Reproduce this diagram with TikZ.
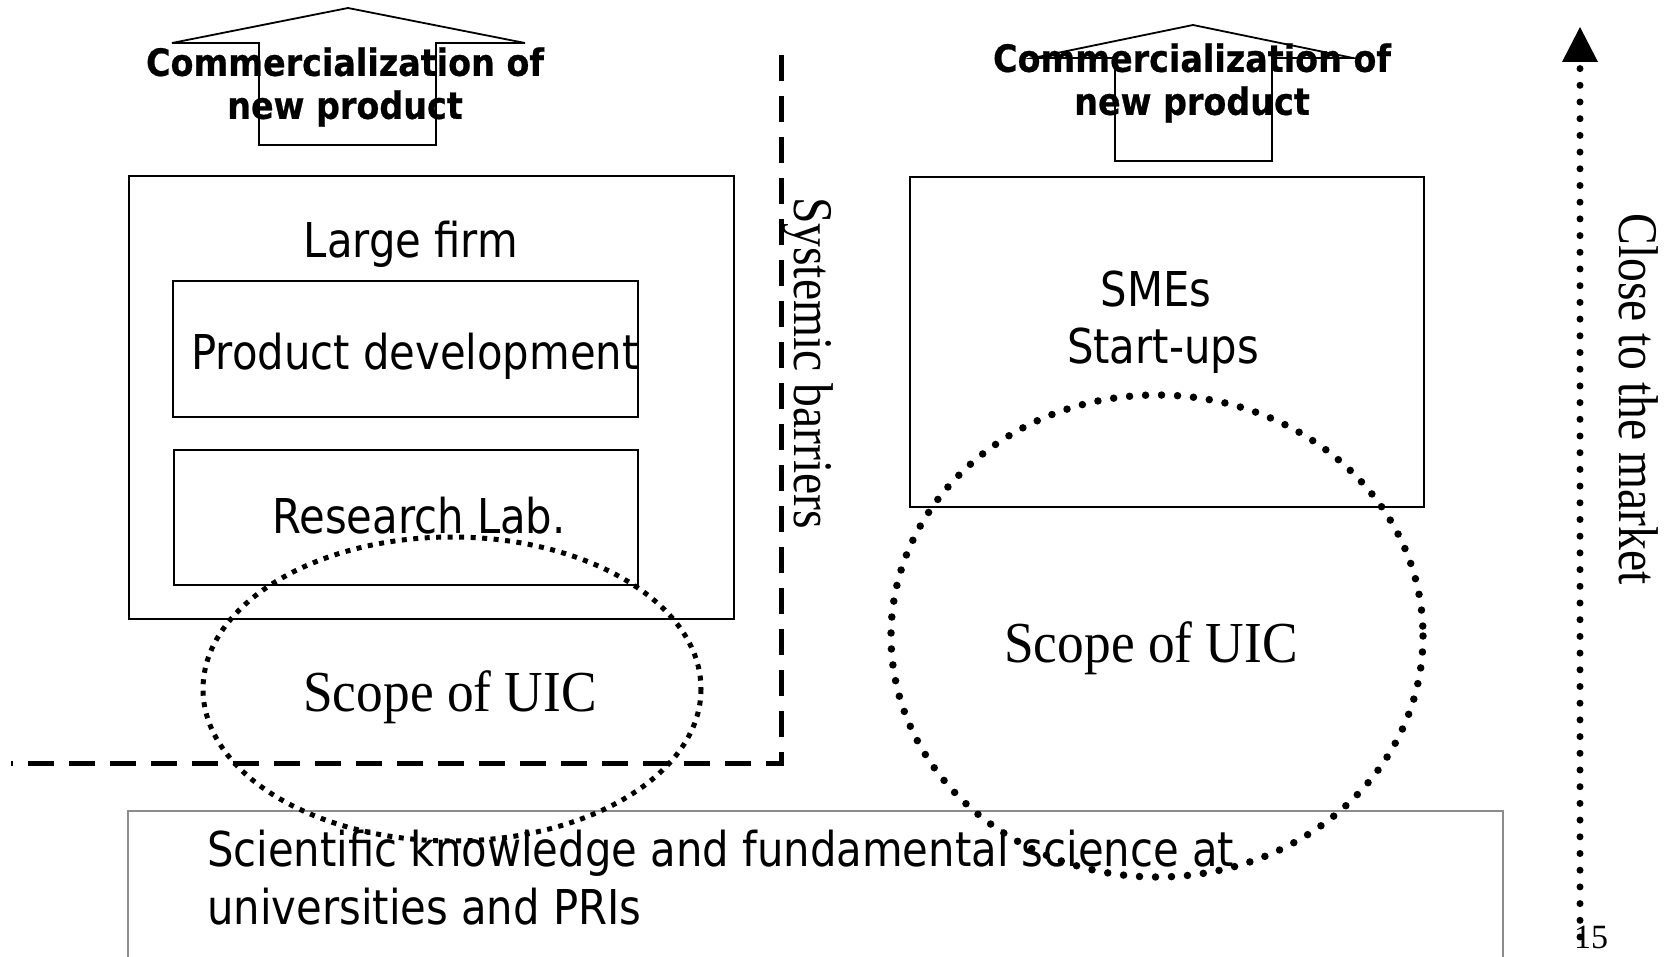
\documentclass[tikz,border=0pt]{standalone}
\usepackage{fontspec}
\setmainfont{Liberation Serif}
\newfontfamily\sansf[FakeStretch=0.87]{DejaVu Sans}
\newfontfamily\headf[FakeStretch=0.89, BoldFeatures={FakeBold=0.6}]{DejaVu Sans}
\newfontfamily\serifw[FakeStretch=0.92]{Liberation Serif}
\newfontfamily\serifn[FakeStretch=0.85]{Liberation Serif}
\usetikzlibrary{arrows.meta}
\begin{document}
\begin{tikzpicture}[x=1pt,y=-1pt,
  frame/.style={draw, line width=2pt, inner sep=0pt, anchor=north west},
  blockarrow/.style={draw, line width=1.8pt, line join=miter},
  headtxt/.style={font=\headf\bfseries\fontsize{37.5}{43}\selectfont, align=center, inner sep=0pt},
  maintxt/.style={font=\sansf\fontsize{48}{58}\selectfont, inner sep=0pt},
  scopetxt/.style={font=\serifw\fontsize{58}{66}\selectfont, inner sep=0pt},
  sidetxt/.style={font=\serifn\fontsize{56}{64}\selectfont, inner sep=0pt, rotate=-90},
  uicsq/.style={draw, line width=5pt, dash pattern=on 5pt off 6.5pt},
  uicround/.style={draw, line width=7.5pt, line cap=round, dash pattern=on 0pt off 16pt},
  barrier/.style={draw, line width=5pt, dash pattern=on 26pt off 15pt},
  market/.style={draw, line width=7pt, line cap=round, dash pattern=on 0pt off 16.7pt},
]
\useasboundingbox (0,0) rectangle (1668,957);

% boxes
\node[frame, minimum width=605pt, minimum height=443pt] (large) at (128,175) {};
\node[frame, minimum width=465pt, minimum height=136pt] (prod) at (172,280) {};
\node[frame, minimum width=464pt, minimum height=135pt] (lab) at (173,449) {};
\node[frame, minimum width=514pt, minimum height=330pt] (smes) at (909,176) {};
\draw[line width=2pt, draw=black!45] (128,957) -- (128,811) -- (1503,811) -- (1503,957);

% block arrows
\draw[blockarrow] (259,145) -- (259,43) -- (172,43) -- (348,8) -- (525,43) -- (436,43) -- (436,145) -- cycle;
\draw[blockarrow] (1115,161) -- (1115,58) -- (1033,58) -- (1193,25) -- (1353,58) -- (1272,58) -- (1272,161) -- cycle;

% texts
\node[headtxt] (hl) at (345,87) {Commercialization of\\new product};
\node[headtxt] (hr) at (1192,83) {Commercialization of\\new product};
\node[maintxt, anchor=base] (tlarge) at (411,258) {Large firm};
\node[maintxt, anchor=base] (tprod) at (415,370) {Product development};
\node[maintxt, anchor=base] (tlab) at (419,533) {Research Lab.};
\node[maintxt, anchor=base] (tsmes1) at (1156,307) {SMEs};
\node[maintxt, anchor=base] (tsmes2) at (1163,364) {Start-ups};
\node[maintxt, align=left, anchor=north west] (tsci) at (207,830) {Scientific knowledge and fundamental science at\\universities and PRIs};

% barrier line
\coordinate (btop) at (781,55);
\coordinate (bcorner) at (781,763);
\coordinate (bleft) at (11,763);
\draw[barrier] (btop) -- (bcorner) -- (bleft);
\node[sidetxt] (tsys) at (808,363) {Systemic barriers};

% scopes
\node[scopetxt, anchor=base] (suicl) at (450,711) {Scope of UIC};
\node[scopetxt, anchor=base] (suicr) at (1151,662) {Scope of UIC};
\draw[uicsq] (452,689) ellipse [x radius=249, y radius=152];
\draw[uicround] (1157,636) ellipse [x radius=266, y radius=241];

% market arrow
\coordinate (mbot) at (1580,937);
\coordinate (mtop) at (1580,64);
\draw[market] (mbot) -- (mtop);
\fill (1562,62) -- (1580,27) -- (1598,62) -- cycle;
\node[sidetxt] (tmkt) at (1639,399) {Close to the market};
\node[font=\fontsize{34}{40}\selectfont, inner sep=0pt, anchor=base] (pnum) at (1591,948) {15};
\end{tikzpicture}
\end{document}
